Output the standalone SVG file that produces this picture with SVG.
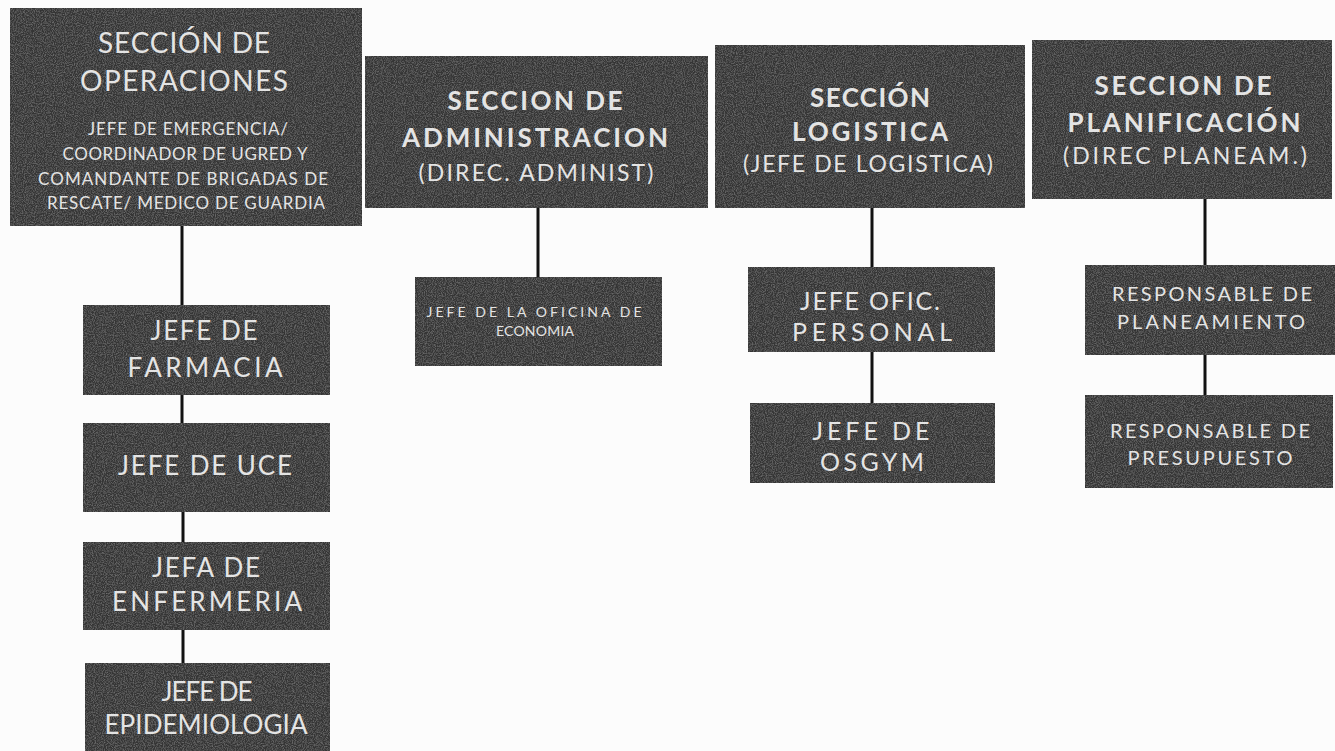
<svg xmlns="http://www.w3.org/2000/svg" width="1335" height="751" viewBox="0 0 1335 751">
<defs>
<filter id="grain" x="0" y="0" width="100%" height="100%">
<feTurbulence type="fractalNoise" baseFrequency="0.9" numOctaves="2" seed="4" result="n"/>
<feColorMatrix in="n" type="matrix" values="0 0 0 0 0.42  0 0 0 0 0.42  0 0 0 0 0.42  0.7 0 0 0 -0.28" result="nc"/>
<feComposite in="nc" in2="SourceGraphic" operator="in" result="g"/>
<feMerge><feMergeNode in="SourceGraphic"/><feMergeNode in="g"/></feMerge>
</filter>
<style>
.box{fill:#353434;filter:url(#grain);}
.t{font-family:Lato,"Open Sans","Liberation Sans",sans-serif;fill:#e4e4e4;text-anchor:middle;}
.b{font-weight:700;font-size:26px;}
.r{font-weight:400;font-size:28px;}
.p{font-weight:400;font-size:23px;}
.s{font-weight:400;font-size:17px;}
.e{font-weight:400;font-size:14px;}
.m{font-weight:400;font-size:20px;}
.c{font-weight:400;font-size:26px;}
.c2{font-weight:400;font-size:25px;}
.ln{stroke:#111;stroke-width:3;fill:none;}
</style>
</defs>
<rect width="1335" height="751" fill="#fcfcfc"/>
<g id="connectors">
<line class="ln" x1="182" y1="225" x2="182" y2="306"/>
<line class="ln" x1="182" y1="394" x2="182" y2="424"/>
<line class="ln" x1="183" y1="511" x2="183" y2="543"/>
<line class="ln" x1="183" y1="629" x2="183" y2="664"/>
<line class="ln" x1="538" y1="207" x2="538" y2="278"/>
<line class="ln" x1="872" y1="207" x2="872" y2="268"/>
<line class="ln" x1="872" y1="351" x2="872" y2="404"/>
<line class="ln" x1="1205" y1="198" x2="1205" y2="266"/>
<line class="ln" x1="1205" y1="354" x2="1205" y2="396"/>
</g>
<g id="operaciones">
<rect class="box" x="10" y="8" width="352" height="218"/>
<text class="t r" x="184" y="53" textLength="172">SECCIÓN DE</text>
<text class="t r" x="184" y="91" textLength="208">OPERACIONES</text>
<text class="t s" x="188" y="135" textLength="200">JEFE DE EMERGENCIA/</text>
<text class="t s" x="185" y="160" textLength="245">COORDINADOR DE UGRED Y</text>
<text class="t s" x="183" y="185" textLength="290">COMANDANTE DE BRIGADAS DE</text>
<text class="t s" x="186" y="209" textLength="278">RESCATE/ MEDICO DE GUARDIA</text>
</g>
<g id="administracion">
<rect class="box" x="365" y="56" width="343" height="152"/>
<text class="t b" x="535" y="110" textLength="175">SECCION DE</text>
<text class="t b" x="535" y="147" textLength="266">ADMINISTRACION</text>
<text class="t p" x="536" y="181" textLength="235">(DIREC. ADMINIST)</text>
</g>
<g id="logistica">
<rect class="box" x="715" y="45" width="310" height="163"/>
<text class="t b" x="870" y="107" textLength="120">SECCIÓN</text>
<text class="t b" x="870" y="141" textLength="156">LOGISTICA</text>
<text class="t p" x="868" y="172" textLength="250">(JEFE DE LOGISTICA)</text>
</g>
<g id="planificacion">
<rect class="box" x="1032" y="40" width="300" height="159"/>
<text class="t b" x="1183" y="95" textLength="177">SECCION DE</text>
<text class="t b" x="1184" y="132" textLength="233">PLANIFICACIÓN</text>
<text class="t p" x="1185" y="164" textLength="244">(DIREC PLANEAM.)</text>
</g>
<g id="economia">
<rect class="box" x="415" y="277" width="247" height="89"/>
<text class="t e" x="534" y="317" textLength="215">JEFE DE LA OFICINA DE</text>
<text class="t e" x="535" y="336" textLength="78">ECONOMIA</text>
</g>
<g id="personal">
<rect class="box" x="748" y="267" width="247" height="85"/>
<text class="t c2" x="870" y="310" textLength="140">JEFE OFIC.</text>
<text class="t c2" x="872" y="341" textLength="160">PERSONAL</text>
</g>
<g id="osgym">
<rect class="box" x="750" y="403" width="245" height="80"/>
<text class="t c2" x="871" y="440" textLength="117">JEFE DE</text>
<text class="t c2" x="872" y="471" textLength="104">OSGYM</text>
</g>
<g id="planeamiento">
<rect class="box" x="1085" y="265" width="250" height="90"/>
<text class="t m" x="1212" y="301" textLength="200">RESPONSABLE DE</text>
<text class="t m" x="1211" y="329" textLength="188">PLANEAMIENTO</text>
</g>
<g id="presupuesto">
<rect class="box" x="1085" y="395" width="248" height="93"/>
<text class="t m" x="1210" y="438" textLength="200">RESPONSABLE DE</text>
<text class="t m" x="1210" y="465" textLength="165">PRESUPUESTO</text>
</g>
<g id="farmacia">
<rect class="box" x="83" y="305" width="247" height="90"/>
<text class="t c" x="204" y="340" textLength="107">JEFE DE</text>
<text class="t c" x="205" y="377" textLength="155">FARMACIA</text>
</g>
<g id="uce">
<rect class="box" x="83" y="423" width="247" height="89"/>
<text class="t c" x="205" y="475" textLength="174">JEFE DE UCE</text>
</g>
<g id="enfermeria">
<rect class="box" x="83" y="542" width="247" height="88"/>
<text class="t c" x="206" y="577" textLength="108">JEFA DE</text>
<text class="t c" x="207" y="611" textLength="190">ENFERMERIA</text>
</g>
<g id="epidemiologia">
<rect class="box" x="85" y="663" width="245" height="90"/>
<text class="t c" x="207" y="701" textLength="91">JEFE DE</text>
<text class="t c" x="206" y="734" textLength="203">EPIDEMIOLOGIA</text>
</g>
</svg>
